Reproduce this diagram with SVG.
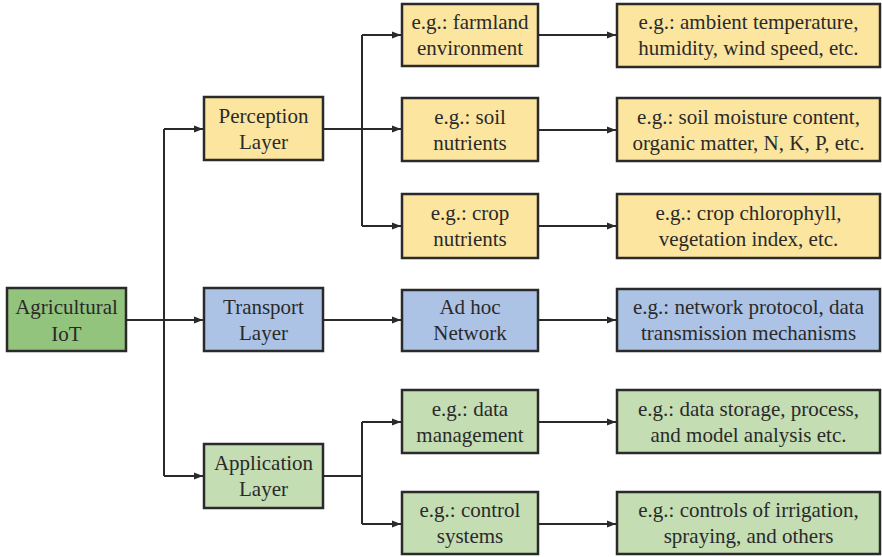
<svg xmlns="http://www.w3.org/2000/svg" width="882" height="557" viewBox="0 0 882 557">
<style>
.box{stroke:#2a2a2a;stroke-width:2.5}
.y{fill:#fce59f}
.b{fill:#adc3e6}
.g{fill:#c4ddb3}
.dg{fill:#93c47d}
text{font-size:21px;fill:#2a2a2a;text-anchor:middle}
.c{fill:none;stroke:#2a2a2a;stroke-width:2}
</style>
<defs>
<marker id="ah" markerUnits="userSpaceOnUse" markerWidth="10" markerHeight="8" refX="9" refY="4" orient="auto">
<path d="M0,0.5 L9,4 L0,7.5 Z" fill="#2a2a2a"/>
</marker>
</defs>
<rect width="882" height="557" fill="#ffffff"/>
<g id="connectors">
<path class="c" d="M126,320 H203" marker-end="url(#ah)"/>
<path class="c" d="M164,129 V476"/>
<path class="c" d="M164,129 H203" marker-end="url(#ah)"/>
<path class="c" d="M164,476 H203" marker-end="url(#ah)"/>
<path class="c" d="M323,129 H401" marker-end="url(#ah)"/>
<path class="c" d="M362,35 V226"/>
<path class="c" d="M362,35 H401" marker-end="url(#ah)"/>
<path class="c" d="M362,226 H401" marker-end="url(#ah)"/>
<path class="c" d="M323,320 H401" marker-end="url(#ah)"/>
<path class="c" d="M323,476 H362"/>
<path class="c" d="M362,422 V524"/>
<path class="c" d="M362,422 H401" marker-end="url(#ah)"/>
<path class="c" d="M362,524 H401" marker-end="url(#ah)"/>
<path class="c" d="M538,35 H616" marker-end="url(#ah)"/>
<path class="c" d="M538,130 H616" marker-end="url(#ah)"/>
<path class="c" d="M538,226 H616" marker-end="url(#ah)"/>
<path class="c" d="M538,320 H616" marker-end="url(#ah)"/>
<path class="c" d="M538,422 H616" marker-end="url(#ah)"/>
<path class="c" d="M538,524 H616" marker-end="url(#ah)"/>
</g>
<g font-family="Liberation Serif, Times New Roman, serif">
<g id="agri"><rect class="box dg" x="7" y="288" width="119" height="63"/><text x="66.5" y="314">Agricultural</text><text x="66.5" y="341">IoT</text></g>
<g id="perception"><rect class="box y" x="204" y="97" width="119" height="63"/><text x="263.5" y="123">Perception</text><text x="263.5" y="149">Layer</text></g>
<g id="transport"><rect class="box b" x="204" y="288" width="119" height="63"/><text x="263.5" y="314">Transport</text><text x="263.5" y="340">Layer</text></g>
<g id="application"><rect class="box g" x="204" y="444" width="119" height="64"/><text x="263.5" y="470">Application</text><text x="263.5" y="496">Layer</text></g>
<g id="farmland"><rect class="box y" x="402" y="4" width="136" height="62"/><text x="470" y="29">e.g.: farmland</text><text x="470" y="55">environment</text></g>
<g id="soil"><rect class="box y" x="402" y="98" width="136" height="63"/><text x="470" y="124">e.g.: soil</text><text x="470" y="150">nutrients</text></g>
<g id="crop"><rect class="box y" x="402" y="194" width="136" height="64"/><text x="470" y="220">e.g.: crop</text><text x="470" y="246">nutrients</text></g>
<g id="adhoc"><rect class="box b" x="402" y="290" width="136" height="61"/><text x="470" y="314">Ad hoc</text><text x="470" y="340">Network</text></g>
<g id="datamgmt"><rect class="box g" x="402" y="390" width="136" height="63"/><text x="470" y="416">e.g.: data</text><text x="470" y="442">management</text></g>
<g id="control"><rect class="box g" x="402" y="492" width="136" height="62"/><text x="470" y="517">e.g.: control</text><text x="470" y="543">systems</text></g>
<g id="r1"><rect class="box y" x="617" y="4" width="263" height="63"/><text x="748.5" y="29">e.g.: ambient temperature,</text><text x="748.5" y="55">humidity, wind speed, etc.</text></g>
<g id="r2"><rect class="box y" x="617" y="98" width="263" height="63"/><text x="748.5" y="124">e.g.: soil moisture content,</text><text x="748.5" y="150">organic matter, N, K, P, etc.</text></g>
<g id="r3"><rect class="box y" x="617" y="194" width="263" height="64"/><text x="748.5" y="220">e.g.: crop chlorophyll,</text><text x="748.5" y="246">vegetation index, etc.</text></g>
<g id="r4"><rect class="box b" x="617" y="289" width="263" height="62"/><text x="748.5" y="314">e.g.: network protocol, data</text><text x="748.5" y="340">transmission mechanisms</text></g>
<g id="r5"><rect class="box g" x="617" y="390" width="263" height="63"/><text x="748.5" y="416">e.g.: data storage, process,</text><text x="748.5" y="442">and model analysis etc.</text></g>
<g id="r6"><rect class="box g" x="617" y="492" width="263" height="62"/><text x="748.5" y="517">e.g.: controls of irrigation,</text><text x="748.5" y="543">spraying, and others</text></g>
</g>
</svg>
